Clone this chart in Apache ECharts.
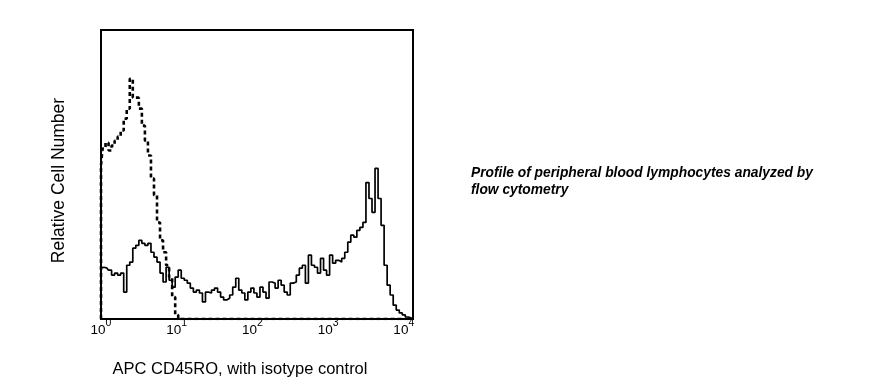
<!DOCTYPE html>
<html>
<head>
<meta charset="utf-8">
<script src="https://cdn.jsdelivr.net/npm/echarts@6/dist/echarts.min.js"></script>
<style>
html,body{margin:0;padding:0;background:#fff;}
#chart{width:886px;height:381px;}
</style>
</head>
<body>
<div id="chart"></div>
<script>
// Histogram bin centres (fluorescence intensity, log spaced)
const binCenters = [
  1, 1.096, 1.202, 1.318, 1.445, 1.585, 1.738, 1.905, 2.089, 2.291, 2.512, 2.754, 3.020, 3.311, 3.631, 3.981, 4.365, 4.786, 5.248, 5.754, 6.310, 6.918, 7.586, 8.318, 9.120,
  10, 10.96, 12.02, 13.18, 14.45, 15.85, 17.38, 19.05, 20.89, 22.91, 25.12, 27.54, 30.20, 33.11, 36.31, 39.81, 43.65, 47.86, 52.48, 57.54, 63.10, 69.18, 75.86, 83.18, 91.20,
  100, 109.6, 120.2, 131.8, 144.5, 158.5, 173.8, 190.5, 208.9, 229.1, 251.2, 275.4, 302.0, 331.1, 363.1, 398.1, 436.5, 478.6, 524.8, 575.4, 631.0, 691.8, 758.6, 831.8, 912.0,
  1000, 1096, 1202, 1318, 1445, 1585, 1738, 1905, 2089, 2291, 2512, 2754, 3020, 3311, 3631, 3981, 4365, 4786, 5248, 5754, 6310, 6918, 7586, 8318, 9120,
  10000, 10965, 12023, 13183
];
// APC CD45RO (solid)
const cd45roCounts = [
  17.6, 17.9, 17.6, 16.9, 15.2, 15.9, 15.2, 15.9, 9.3, 18.6,
  19.7, 24.5, 25.5, 27.2, 26.2, 25.5, 26.2, 23.1, 21.4, 19.7,
  15.9, 12.8, 17.9, 13.4, 11.0, 14.5, 16.9, 14.1, 13.4, 12.4,
  10.7, 9.3, 10.0, 9.0, 5.9, 9.3, 9.0, 10.0, 10.7, 9.3,
  7.6, 6.6, 7.2, 8.3, 11.0, 14.1, 10.0, 9.0, 6.6, 9.3,
  10.7, 9.0, 7.6, 11.0, 9.3, 7.2, 12.8, 12.4, 10.7, 13.4,
  11.7, 9.3, 8.3, 12.4, 12.8, 15.2, 17.6, 18.6, 12.4, 22.1,
  18.6, 17.9, 15.9, 21.0, 16.9, 15.2, 22.1, 19.3, 20.3, 19.7,
  21.0, 23.1, 26.6, 29.0, 28.3, 30.7, 31.7, 33.4, 47.2, 41.7,
  36.9, 52.1, 41.7, 32.4, 18.6, 11.7, 8.3, 4.8, 3.1, 2.1,
  1.4, 0.7, 0.3, 0
];
// Isotype control (dashed)
const isotypeCounts = [
  53.1, 59.0, 61.0, 58.3, 60.0, 61.7, 63.1, 65.2, 69.3, 72.8,
  83.1, 76.6, 76.6, 72.8, 66.9, 61.7, 56.6, 48.6, 42.8, 33.4,
  27.2, 23.1, 18.6, 14.5, 7.6, 1.4, 0, 0, 0, 0,
  0, 0, 0, 0, 0, 0, 0, 0, 0, 0,
  0, 0, 0, 0, 0, 0, 0, 0, 0, 0,
  0, 0, 0, 0, 0, 0, 0, 0, 0, 0,
  0, 0, 0, 0, 0, 0, 0, 0, 0, 0,
  0, 0, 0, 0, 0, 0, 0, 0, 0, 0,
  0, 0, 0, 0, 0, 0, 0, 0, 0, 0,
  0, 0, 0, 0, 0, 0, 0, 0, 0, 0,
  0, 0, 0, 0
];
const xTickExponents = [0, 1, 2, 3, 4];
const xAxisTitle = 'APC CD45RO, with isotype control';
const yAxisTitle = 'Relative Cell Number';
const noteText = 'Profile of peripheral blood lymphocytes analyzed by\nflow cytometry';

const FONT = '"Liberation Sans", Arial, Helvetica, sans-serif';
const chart = echarts.init(document.getElementById('chart'), null, {renderer: 'canvas'});

const solidData = binCenters.map((x, i) => [x, cd45roCounts[i]]);
const dashedData = [[binCenters[0], 0]].concat(binCenters.map((x, i) => [x, isotypeCounts[i]]));

chart.setOption({
  animation: false,
  backgroundColor: '#fff',
  grid: {left: 101, right: 473, top: 30, bottom: 62, show: true, borderColor: '#000', borderWidth: 2,
         backgroundColor: 'transparent', containLabel: false, outerBoundsMode: 'none'},
  xAxis: {
    type: 'log', logBase: 10, min: 1, max: 13230,
    name: xAxisTitle, nameLocation: 'middle', nameGap: 42,
    nameTextStyle: {fontFamily: FONT, fontSize: 16.5, color: '#000', padding: [0, 34, 0, 0]},
    axisLine: {show: false}, axisTick: {show: false}, splitLine: {show: false},
    axisLabel: {
      margin: -1,
      showMaxLabel: false,
      formatter: function (v) {
        const e = Math.round(Math.log10(v));
        if (Math.abs(Math.log10(v) - e) > 1e-6 || xTickExponents.indexOf(e) < 0) return '';
        return '{b|10}{s|' + e + '}';
      },
      rich: {
        b: {fontFamily: FONT, fontSize: 13.5, color: '#000', lineHeight: 19, verticalAlign: 'bottom'},
        s: {fontFamily: FONT, fontSize: 10.5, color: '#000', lineHeight: 10, verticalAlign: 'top'}
      }
    }
  },
  yAxis: {
    type: 'value', min: 0, max: 100,
    name: yAxisTitle, nameLocation: 'middle', nameGap: 33, nameRotate: 90,
    nameTextStyle: {fontFamily: FONT, fontSize: 17.5, color: '#000', padding: [0, 12, 0, 0]},
    axisLine: {show: false}, axisTick: {show: false}, axisLabel: {show: false}, splitLine: {show: false}
  },
  graphic: [{
    type: 'text', left: 471, top: 164,
    style: {text: noteText, fontFamily: FONT, fontSize: 13.8, fontStyle: 'italic', fontWeight: 'bold', fill: '#000', lineHeight: 17.5}
  }],
  series: [
    {type: 'line', data: dashedData, step: 'middle', symbol: 'none', z: 3,
     lineStyle: {color: '#000', width: 2.6, type: [4, 3]}},
    {type: 'line', data: solidData, step: 'middle', symbol: 'none', z: 4,
     lineStyle: {color: '#000', width: 1.7}}
  ]
});
</script>
</body>
</html>
